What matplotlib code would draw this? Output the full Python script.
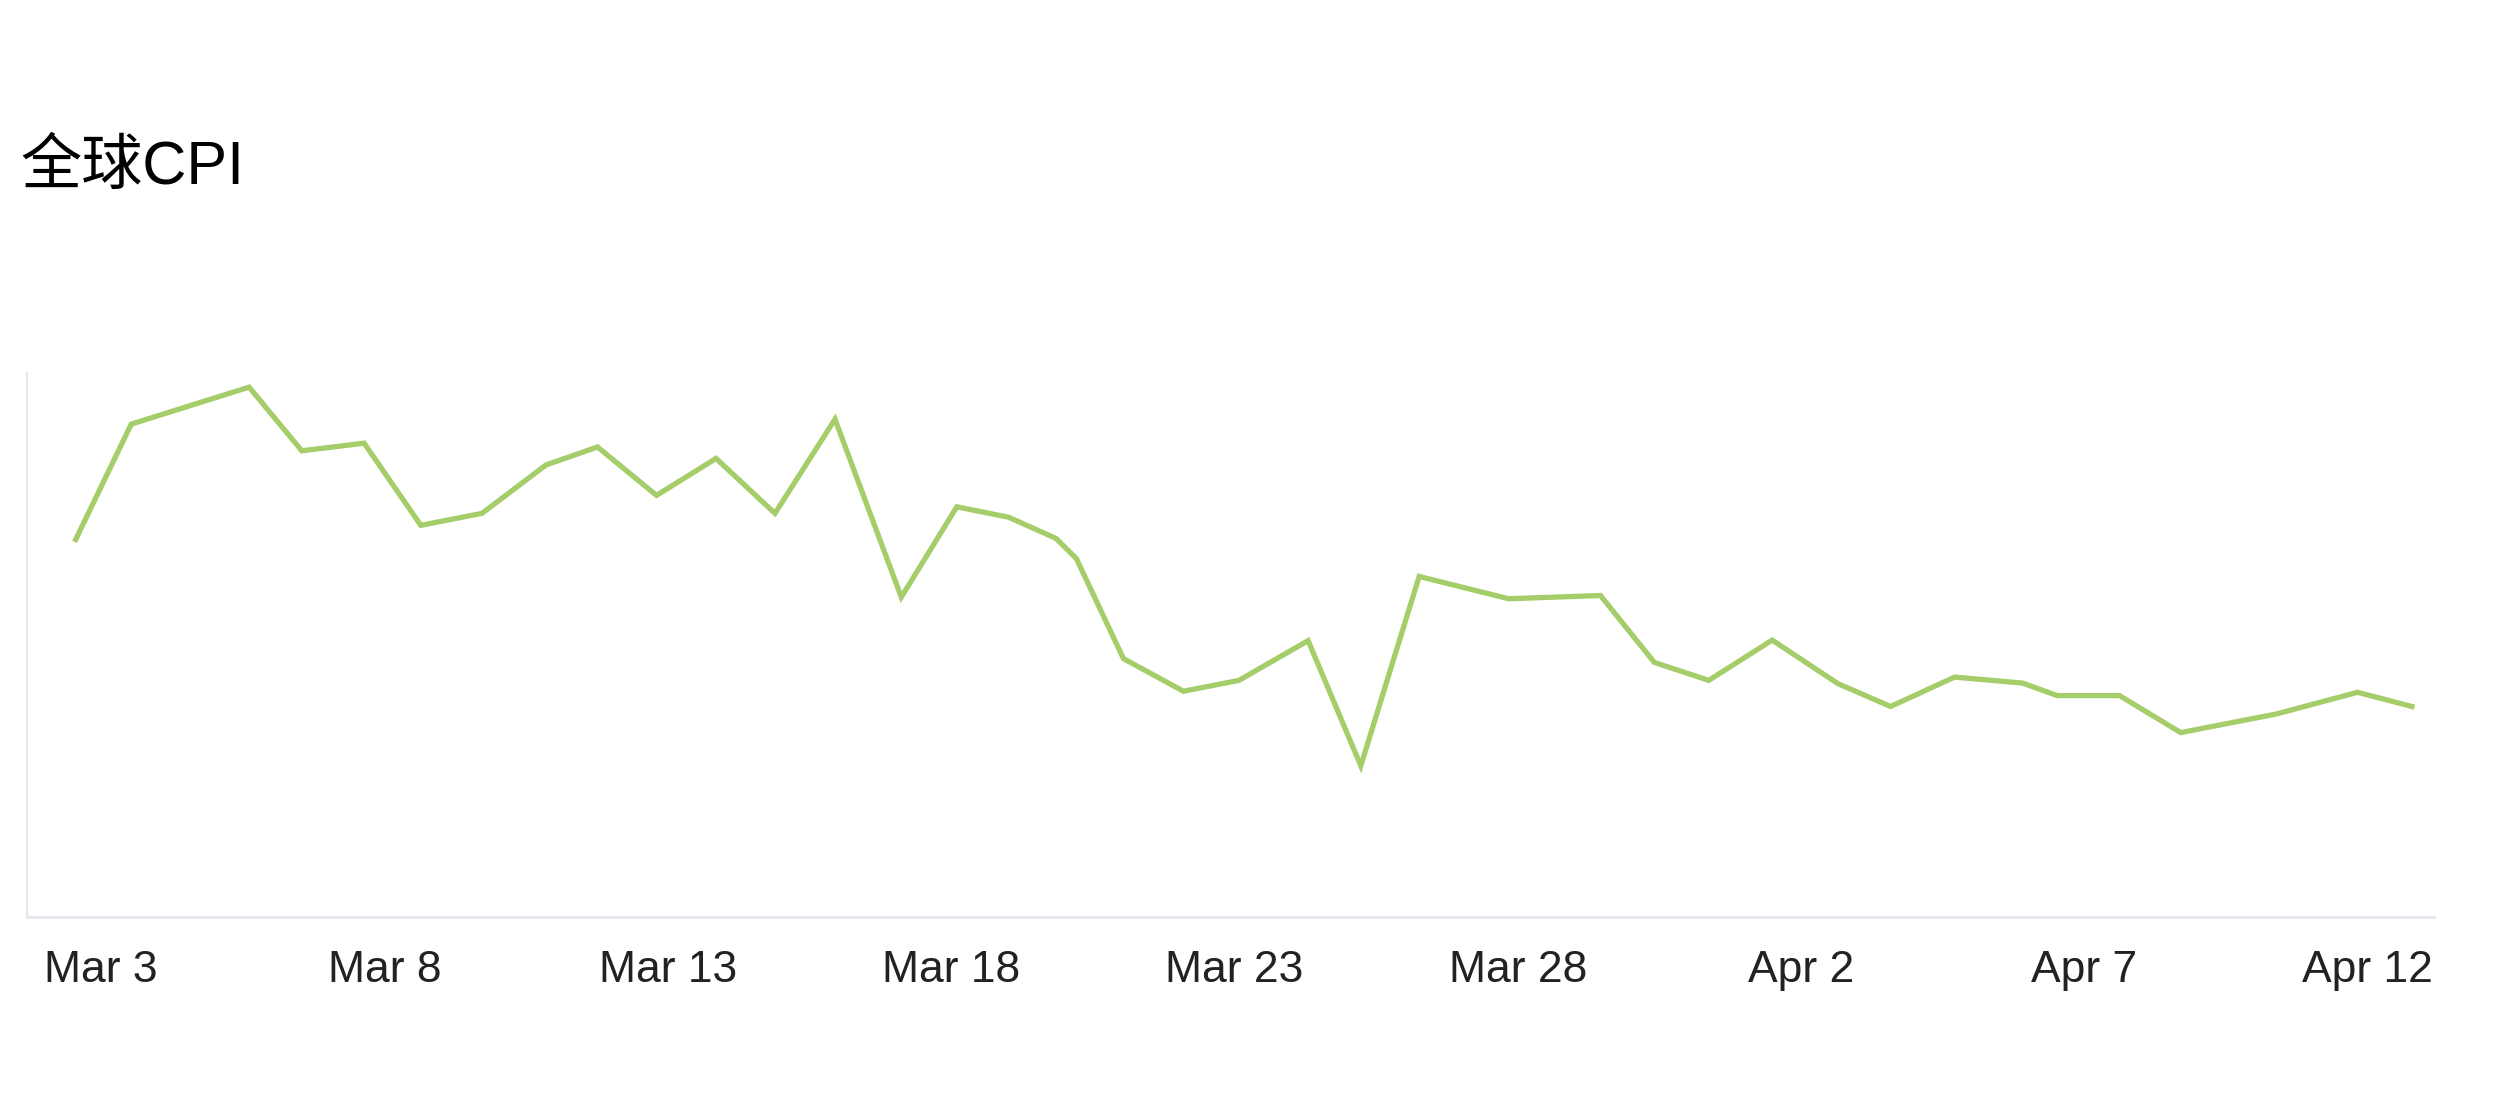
import matplotlib
matplotlib.use("Agg")
import matplotlib.pyplot as plt
import pandas as pd

plt.rcParams['font.family'] = ['Liberation Sans', 'Noto Sans CJK SC', 'DejaVu Sans']

title = "全球CPI"
dates = [
    "2024-03-02 13:12", "2024-03-03 12:43", "2024-03-05 14:38", "2024-03-06 12:58",
    "2024-03-07 15:22", "2024-03-08 15:22", "2024-03-09 17:17", "2024-03-10 20:24",
    "2024-03-11 18:14", "2024-03-12 19:12", "2024-03-13 20:24", "2024-03-14 21:22",
    "2024-03-15 22:48", "2024-03-17 02:53", "2024-03-18 02:24", "2024-03-19 00:14",
    "2024-03-19 20:24", "2024-03-20 05:02", "2024-03-21 00:58", "2024-03-22 02:24",
    "2024-03-23 01:55", "2024-03-24 07:12", "2024-03-25 05:31", "2024-03-26 06:14",
    "2024-03-27 20:10", "2024-03-29 11:02", "2024-03-30 09:50", "2024-03-31 08:53",
    "2024-04-01 11:46", "2024-04-02 15:36", "2024-04-03 13:55", "2024-04-04 17:02",
    "2024-04-05 21:50", "2024-04-06 12:29", "2024-04-07 14:53", "2024-04-08 16:48",
    "2024-04-10 09:07", "2024-04-11 19:41", "2024-04-12 18:43",
]
values = [
    69.4, 90.6, 97.4, 85.7, 87.1, 72.0, 74.2, 83.1, 86.4, 77.5,
    84.3, 74.2, 91.5, 58.8, 75.4, 73.5, 69.6, 65.9, 47.5, 41.5,
    43.5, 50.8, 27.8, 62.6, 58.5, 59.1, 46.8, 43.5, 50.9, 42.9,
    38.7, 44.1, 43.0, 40.7, 40.7, 33.9, 37.3, 41.3, 38.7,
]
tick_dates = ["2024-03-03", "2024-03-08", "2024-03-13", "2024-03-18", "2024-03-23",
              "2024-03-28", "2024-04-02", "2024-04-07", "2024-04-12"]
tick_labels = ["Mar 3", "Mar 8", "Mar 13", "Mar 18", "Mar 23",
               "Mar 28", "Apr 2", "Apr 7", "Apr 12"]

x = pd.to_datetime(dates)
ticks = pd.to_datetime(tick_dates)

fig = plt.figure(figsize=(12.5, 5.51), dpi=200)
ax = fig.add_axes([27/2500, 1 - 917/1102, (2434 - 27)/2500, (917 - 373)/1102])

ax.plot(x, values, color="#a5cd69", lw=1.9, solid_joinstyle="miter")

xmin = pd.Timestamp("2024-03-03") - pd.Timedelta(days=1.31)
xmax = pd.Timestamp("2024-03-03") + pd.Timedelta(days=41.17)
ax.set_xlim(xmin, xmax)
ax.set_ylim(0, 100)

ax.set_xticks(ticks)
ax.set_xticklabels(tick_labels, fontsize=16, color="#222222")
ax.tick_params(axis="x", length=0, pad=12)
ax.set_yticks([])

for s in ["top", "right"]:
    ax.spines[s].set_visible(False)
ax.spines["left"].set_color("#e6e6ee")
ax.spines["left"].set_linewidth(0.8)
ax.spines["bottom"].set_color("#e6e6ee")
ax.spines["bottom"].set_linewidth(1.0)

fig.text(20/2500, 1 - 184/1102, title, fontsize=22, color="#000000",
         ha="left", va="baseline")

fig.savefig("out.png", dpi=200, facecolor="white")
